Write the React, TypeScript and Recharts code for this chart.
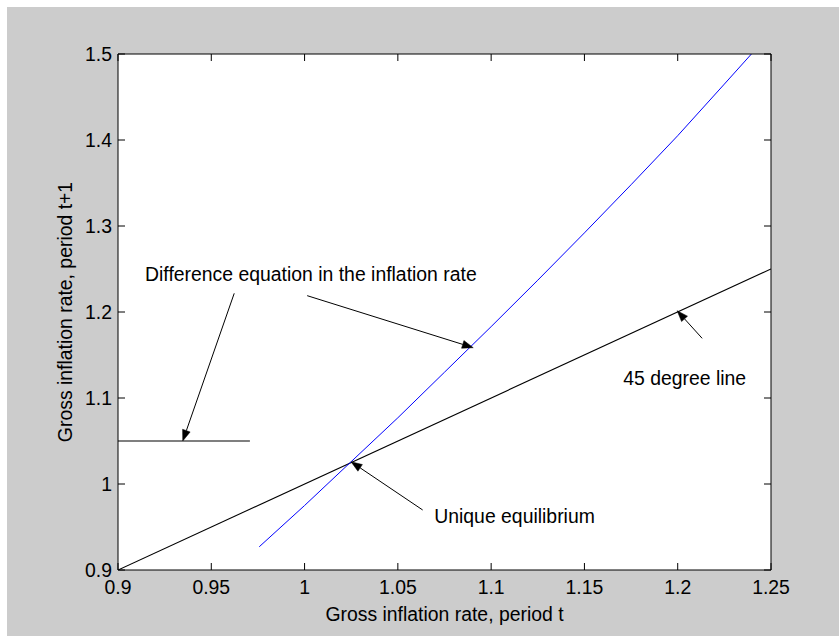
import React from 'react';
import {
  ComposedChart,
  Line,
  XAxis,
  YAxis,
  CartesianGrid,
  ReferenceLine,
  ReferenceDot,
} from 'recharts';

// Tick values
const xTicks = [0.9, 0.95, 1, 1.05, 1.1, 1.15, 1.2, 1.25];
const yTicks = [0.9, 1, 1.1, 1.2, 1.3, 1.4, 1.5];

// Difference equation in the inflation rate (blue curve)
const diffX = [0.9757, 1.0, 1.025, 1.05, 1.075, 1.1, 1.125, 1.15, 1.175, 1.2, 1.225, 1.2395];
const diffY = [0.927, 0.975, 1.026, 1.077, 1.13, 1.183, 1.237, 1.292, 1.348, 1.405, 1.465, 1.5];

// 45 degree line
const degX = [0.9, 1.25];
const degY = [0.9, 1.25];

// Short horizontal line
const flatX = [0.9, 0.9707];
const flatY = [1.05, 1.05];

// Annotation arrows: [startX, startY, tipX, tipY]
const arrows: [number, number, number, number][] = [
  [0.9623, 1.2217, 0.9347, 1.05],
  [1.0014, 1.219, 1.0904, 1.1585],
  [1.0633, 0.9698, 1.0249, 1.0259],
  [1.2131, 1.1694, 1.1997, 1.2015],
];

// Annotation texts: label, x (left), y (baseline)
const notes: { text: string; x: number; y: number }[] = [
  { text: 'Difference equation in the inflation rate', x: 0.9145, y: 1.2364 },
  { text: 'Unique equilibrium', x: 1.0695, y: 0.955 },
  { text: '45 degree line', x: 1.1708, y: 1.1151 },
];

const zip = (xs: number[], ys: number[]) => xs.map((x, i) => ({ x, y: ys[i] }));
const diffData = zip(diffX, diffY);
const degData = zip(degX, degY);
const flatData = zip(flatX, flatY);

const FONT = '"Liberation Sans", Arial, Helvetica, sans-serif';
const FS = 19.4;

const ArrowShape = (p: any) => {
  const { x1, y1, x2, y2 } = p;
  const dx = x2 - x1;
  const dy = y2 - y1;
  const len = Math.sqrt(dx * dx + dy * dy) || 1;
  const ux = dx / len;
  const uy = dy / len;
  const hl = 11;
  const hw = 4;
  const bx = x2 - ux * hl;
  const by = y2 - uy * hl;
  const pts = `${x2},${y2} ${bx - uy * hw},${by + ux * hw} ${bx + uy * hw},${by - ux * hw}`;
  return (
    <g>
      <line x1={x1} y1={y1} x2={bx} y2={by} stroke="#000" strokeWidth={1} />
      <polygon points={pts} fill="#000" stroke="#000" strokeWidth={0.5} />
    </g>
  );
};

const fmt = (v: number) => String(v);

export default function App() {
  return (
    <div style={{ position: 'absolute', left: 7, top: 7, width: 832, height: 629, background: '#cccccc' }}>
      <ComposedChart
        width={832}
        height={629}
        margin={{ top: 37, right: 58, bottom: 6, left: 51 }}
        style={{ fontFamily: FONT }}
      >
        <CartesianGrid stroke="none" fill="#ffffff" horizontal={false} vertical={false} />
        <XAxis
          type="number"
          dataKey="x"
          domain={[0.9, 1.25]}
          ticks={xTicks}
          allowDataOverflow
          interval={0}
          height={60}
          tickSize={-7}
          tickMargin={17}
          tickFormatter={fmt}
          stroke="#000"
          tick={{ fill: '#000', fontSize: FS, fontFamily: FONT }}
          label={{
            content: (props: any) => {
              const vb = props.viewBox || { x: 111, y: 563, width: 653 };
              return (
                <text
                  x={vb.x + vb.width / 2}
                  y={vb.y + 51}
                  textAnchor="middle"
                  fill="#000"
                  fontSize={FS}
                  fontFamily={FONT}
                >
                  Gross inflation rate, period t
                </text>
              );
            },
          }}
        />
        <XAxis
          xAxisId="top"
          orientation="top"
          type="number"
          dataKey="x"
          domain={[0.9, 1.25]}
          ticks={xTicks}
          allowDataOverflow
          interval={0}
          height={10}
          tickSize={-7}
          tickFormatter={() => ''}
          stroke="#000"
        />
        <YAxis
          type="number"
          domain={[0.9, 1.5]}
          ticks={yTicks}
          allowDataOverflow
          interval={0}
          width={60}
          tickSize={-7}
          tickMargin={13}
          tickFormatter={fmt}
          stroke="#000"
          tick={{ fill: '#000', fontSize: FS, fontFamily: FONT }}
          label={{
            content: (props: any) => {
              const vb = props.viewBox || { x: 51, y: 47, height: 516 };
              const cx = vb.x + 7;
              const cy = vb.y + vb.height / 2;
              return (
                <text
                  x={cx}
                  y={cy}
                  transform={`rotate(-90, ${cx}, ${cy})`}
                  textAnchor="middle"
                  dominantBaseline="central"
                  fill="#000"
                  fontSize={FS}
                  fontFamily={FONT}
                >
                  Gross inflation rate, period t+1
                </text>
              );
            },
          }}
        />
        <YAxis
          yAxisId="right"
          orientation="right"
          type="number"
          domain={[0.9, 1.5]}
          ticks={yTicks}
          allowDataOverflow
          interval={0}
          width={10}
          tickSize={-7}
          tickFormatter={() => ''}
          stroke="#000"
        />
        <Line
          data={degData}
          dataKey="y"
          stroke="#000000"
          strokeWidth={1.1}
          dot={false}
          activeDot={false}
          isAnimationActive={false}
        />
        <Line
          data={flatData}
          dataKey="y"
          stroke="#000000"
          strokeWidth={1.2}
          dot={false}
          activeDot={false}
          isAnimationActive={false}
        />
        <Line
          data={diffData}
          dataKey="y"
          stroke="#0000ff"
          strokeWidth={1}
          dot={false}
          activeDot={false}
          isAnimationActive={false}
        />
        {arrows.map((a, i) => (
          <ReferenceLine
            key={`arrow-${i}`}
            segment={[
              { x: a[0], y: a[1] },
              { x: a[2], y: a[3] },
            ]}
            shape={ArrowShape}
            ifOverflow="visible"
          />
        ))}
        {notes.map((n, i) => (
          <ReferenceDot
            key={`note-${i}`}
            x={n.x}
            y={n.y}
            r={0}
            ifOverflow="visible"
            shape={(p: any) => (
              <text x={p.cx} y={p.cy} fill="#000" fontSize={FS} fontFamily={FONT} textAnchor="start">
                {n.text}
              </text>
            )}
          />
        ))}
      </ComposedChart>
    </div>
  );
}
